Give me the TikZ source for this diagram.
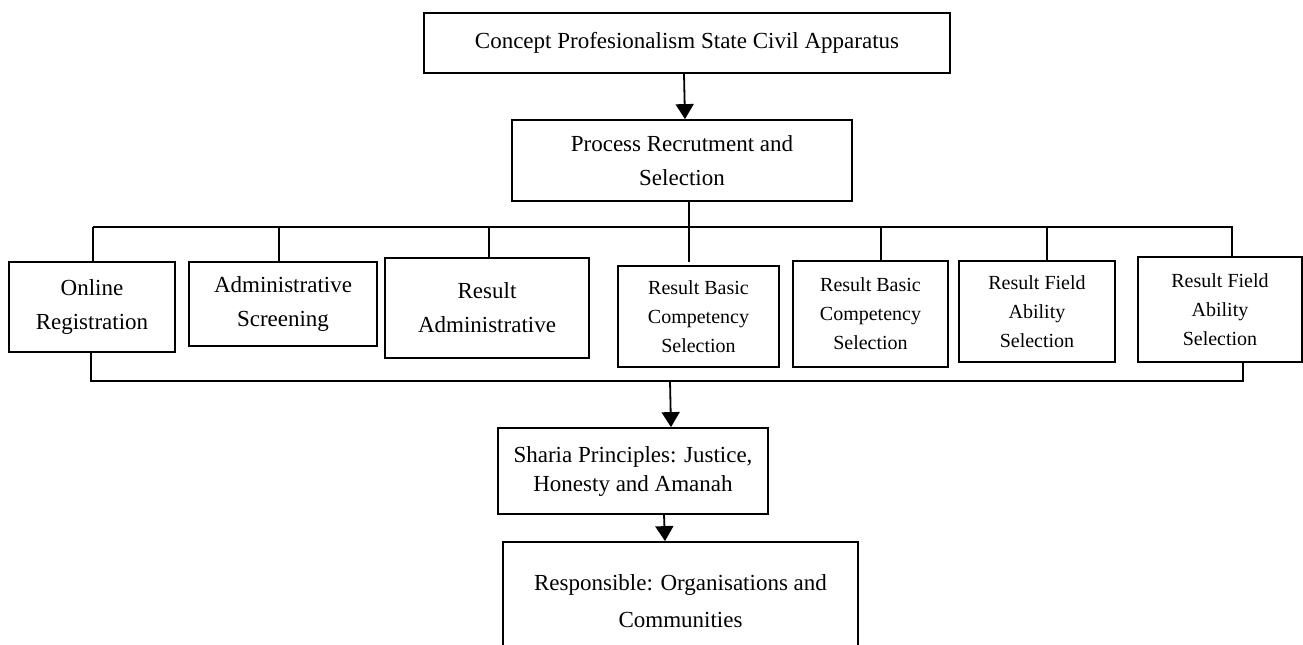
\documentclass[tikz,border=0pt]{standalone}
\usepackage{fontspec}
\setmainfont{Liberation Serif}
\usetikzlibrary{arrows.meta}
\tikzset{
  box/.style={draw, line width=0.9pt, align=center, inner sep=2pt, font=\fontsize{11.5}{17}\selectfont},
  smallbox/.style={box, font=\fontsize{10}{14.5}\selectfont},
  bus/.style={line width=0.9pt},
  arr/.style={line width=0.9pt, -{Triangle[length=7.5pt,width=9pt]}}
}

\begin{document}
\begin{tikzpicture}[x=0.5pt, y=-0.5pt]
	%%%%% START %%%%%
	\clip (0,0) rectangle (1303,644);
	
	\node[box, minimum width=263pt, minimum height=30pt] (concept) at (687,43) {Concept Profesionalism State Civil Apparatus};
	\node[box, minimum width=170pt, minimum height=40.5pt] (process) at (682,160.5) {Process Recrutment and\\Selection};
	
	% row of steps
	\node[box, minimum width=83pt, minimum height=45pt] (online) at (92,307) {Online\\Registration};
	\node[box, minimum width=94pt, minimum height=42pt] (admin) at (283,304) {Administrative\\Screening};
	\node[box, minimum width=102pt, minimum height=50pt] (resadm) at (487,308) {Result\\Administrative};
	\node[smallbox, minimum width=80.5pt, minimum height=50.5pt] (rbc1) at (698.5,316.5) {Result Basic\\Competency\\Selection};
	\node[smallbox, minimum width=77.5pt, minimum height=53pt] (rbc2) at (870.5,314) {Result Basic\\Competency\\Selection};
	\node[smallbox, minimum width=78pt, minimum height=50.5pt] (rfa1) at (1037,311.5) {Result Field\\Ability\\Selection};
	\node[smallbox, minimum width=82pt, minimum height=52.5pt] (rfa2) at (1220,309.5) {Result Field\\Ability\\Selection};
	
	\node[box, minimum width=135pt, minimum height=43pt, font=\fontsize{11.5}{14.5}\selectfont] (sharia) at (633,471) {Sharia Principles: Justice,\\Honesty and Amanah};
	\node[box, minimum width=177.5pt, minimum height=59pt, font=\fontsize{11.5}{18.5}\selectfont] (resp) at (680.5,601) {Responsible: Organisations and\\Communities};
	
	% connectors
	\draw[arr] (684,0 |- concept.south) -- (685,0 |- process.north);
	
	\coordinate (busL) at (93,227);
	\coordinate (busR) at (1233,227);
	\draw[bus] (busL) -- (busR);
	\draw[bus] (689,0 |- process.south) -- (689,262);
	\foreach \x/\n in {93/online, 279/admin, 489/resadm, 881/rbc2, 1047/rfa1, 1232/rfa2}
		\draw[bus] (\x,227) -- (\x,0 |- \n.north);
	
	\draw[bus] (91,0 |- online.south) -- (91,381) -- (1243,381) -- (1243,0 |- rfa2.south);
	\coordinate (busD) at (670,381);
	\draw[arr] (busD) -- (671,0 |- sharia.north);
	
	\draw[arr] (664,0 |- sharia.south) -- (665,0 |- resp.north);
	
	%%%%% END %%%%%
\end{tikzpicture}
\end{document}
